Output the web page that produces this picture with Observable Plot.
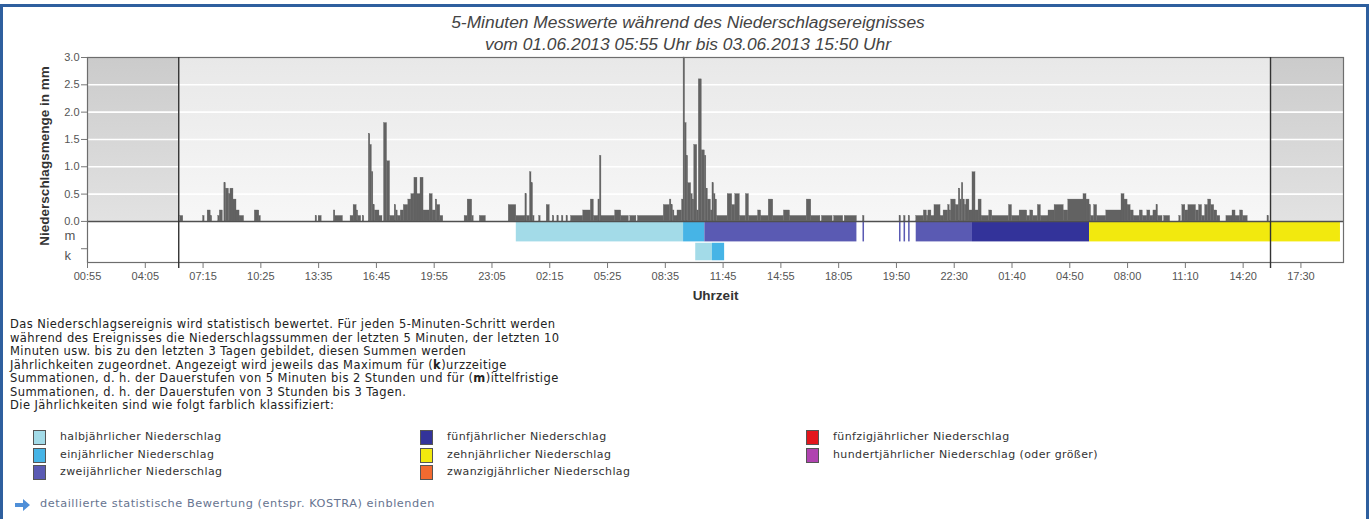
<!DOCTYPE html>
<html><head><meta charset="utf-8">
<script src="https://cdn.jsdelivr.net/npm/d3@7"></script>
<script src="https://cdn.jsdelivr.net/npm/@observablehq/plot@0.6"></script>
<style>
html,body{margin:0;padding:0;background:#fff}
body{width:1369px;height:519px;overflow:hidden;position:relative;font-family:"Liberation Sans",Arial,sans-serif}
#frame{position:absolute;left:0;top:4px;width:1369px;height:620px;box-sizing:border-box;border:3px solid #2e5f9e;border-bottom:none}
#title{position:absolute;left:0;width:1376px;top:12px;text-align:center;font-style:italic;font-size:17.4px;color:#444;line-height:21.5px}
#chart{position:absolute;left:0;top:0}
#desc{position:absolute;left:10px;top:318px;font-family:"DejaVu Sans",sans-serif;font-size:11.5px;letter-spacing:0.42px;line-height:13.5px;color:#222;white-space:nowrap}
.li{position:absolute;font-family:"DejaVu Sans",sans-serif;font-size:11px;letter-spacing:0.4px;color:#333;white-space:nowrap;line-height:14px}
.sw{position:absolute;width:11px;height:13px;border:1px solid #555}
#link{position:absolute;left:40px;top:497px;font-family:"DejaVu Sans",sans-serif;font-size:11.3px;letter-spacing:0.55px;color:#66738f;white-space:nowrap}
#arrow{position:absolute;left:15px;top:499px}
</style></head>
<body>
<div id="frame"></div>
<div id="chart"></div>
<div id="title">5-Minuten Messwerte während des Niederschlagsereignisses<br>vom 01.06.2013 05:55 Uhr bis 03.06.2013 15:50 Uhr</div>
<div id="desc">Das Niederschlagsereignis wird statistisch bewertet. Für jeden 5-Minuten-Schritt werden<br>während des Ereignisses die Niederschlagssummen der letzten 5 Minuten, der letzten 10<br>Minuten usw. bis zu den letzten 3 Tagen gebildet, diesen Summen werden<br>Jährlichkeiten zugeordnet. Angezeigt wird jeweils das Maximum für (<b>k</b>)urzzeitige<br>Summationen, d. h. der Dauerstufen von 5 Minuten bis 2 Stunden und für (<b>m</b>)ittelfristige<br>Summationen, d. h. der Dauerstufen von 3 Stunden bis 3 Tagen.<br>Die Jährlichkeiten sind wie folgt farblich klassifiziert:</div>
<div id="legend"></div>
<svg id="arrow" width="16" height="12" viewBox="0 0 16 12"><path d="M0 4 H8 V0 L15 6 L8 12 V8 H0 Z" fill="#4f8fd8"/></svg>
<div id="link">detaillierte statistische Bewertung (entspr. KOSTRA) einblenden</div>
<script>
// ---------- data ----------
const xTickIdx = [0,38,76,114,152,190,228,266,304,342,380,418,456,494,532,570,608,646,684,722,760,798];
const xTickLabels = ["00:55","04:05","07:15","10:25","13:35","16:45","19:55","23:05","02:15","05:25","08:35","11:45","14:55","18:05","19:50","22:30","01:40","04:50","08:00","11:10","14:20","17:30"];
const yTicks = [0,0.5,1,1.5,2,2.5,3];
const eventStartIdx = 60;   // 01.06.2013 05:55
const eventEndIdx = 778;    // 03.06.2013 15:50
const xMaxIdx = 826;
const lowerPanelMin = -0.752;
// precipitation runs: [first 5-min step, end step, mm]
const precipRuns = [
 [61,63,0.1],[76,77,0.1],[79,81,0.2],[81,82,0.1],[86,87,0.1],[87,89,0.2],[90,91,0.7],[91,93,0.6],[93,94,0.5],[94,96,0.6],[96,98,0.4],[98,100,0.2],[100,103,0.1],[110,113,0.2],[113,114,0.1],
 [150,151,0.1],[152,154,0.1],
 [162,163,0.2],[163,168,0.1],[173,175,0.1],[175,177,0.3],[177,178,0.2],[178,180,0.1],[181,182,0.1],[185,186,1.6],[186,187,1.4],[187,188,0.9],[188,189,0.3],[189,192,0.2],[192,194,0.1],[195,197,1.8],[197,199,1.1],[199,202,0.1],[202,203,0.3],[203,204,0.2],[204,206,0.1],[206,208,0.2],[208,211,0.3],[211,213,0.4],[213,215,0.5],[215,217,0.8],[217,219,0.5],[219,221,0.8],[221,225,0.2],[225,227,0.5],[227,229,0.2],[229,230,0.4],[230,232,0.3],[232,234,0.1],[248,250,0.1],[250,253,0.4],[253,254,0.1],[258,262,0.1],
 [277,282,0.3],[282,288,0.1],[288,289,0.5],[289,291,0.1],[291,292,0.9],[292,293,0.7],[293,294,0.1],[297,298,0.1],[302,304,0.3],[306,307,0.1],[309,310,0.1],[312,313,0.1],[315,316,0.1],[318,326,0.1],[326,331,0.2],[331,333,0.4],[333,336,0.1],[336,337,0.4],[337,338,1.2],[338,347,0.1],[347,351,0.2],[351,356,0.1],[357,361,0.1],[362,379,0.1],
 [379,383,0.3],[383,384,0.4],[384,385,0.3],[385,386,0.2],[386,388,0.1],[388,391,0.2],[391,392,0.4],[392,393,3.0],[393,394,1.8],[394,395,1.2],[395,397,0.7],[397,398,0.5],[398,399,0.4],[399,401,1.4],[401,402,0.2],[402,404,2.6],[404,406,1.3],[406,407,1.2],[407,408,0.6],[408,410,0.4],[410,411,0.2],[411,412,0.7],[412,413,0.5],[413,414,0.4],[414,421,0.1],[421,424,0.5],[424,426,0.3],[426,429,0.5],[429,433,0.1],[433,435,0.5],[435,441,0.1],[441,443,0.2],[443,448,0.1],[448,451,0.4],[451,458,0.1],[458,462,0.2],[462,473,0.1],[473,476,0.4],
 [476,482,0.1],[483,490,0.1],[491,497,0.1],[498,506,0.1],[510,511,0.1],
 [534,535,0.1],[537,538,0.1],[540,541,0.1],[545,550,0.1],[550,552,0.2],[552,553,0.1],[553,555,0.2],[555,557,0.1],[557,561,0.3],[561,563,0.1],[563,566,0.2],[566,567,0.3],[567,568,0.2],[568,571,0.4],[571,573,0.3],[573,574,0.6],[574,575,0.4],[575,576,0.7],[576,577,0.4],[577,578,0.3],[578,580,0.4],[580,582,0.2],[582,584,0.9],[584,586,0.2],[586,588,0.4],[588,593,0.1],[593,595,0.2],[595,606,0.1],[606,608,0.3],[608,613,0.1],[613,618,0.2],[618,620,0.1],[620,622,0.2],[622,625,0.1],[625,627,0.3],[627,632,0.1],[632,636,0.2],[636,642,0.3],[642,645,0.2],[645,655,0.4],[655,657,0.5],[657,659,0.4],[659,660,0.3],[660,662,0.1],[662,664,0.3],[664,670,0.1],[670,680,0.2],[680,682,0.5],[682,684,0.4],[684,686,0.3],
 [686,688,0.2],[688,692,0.1],[692,694,0.2],[694,697,0.1],[697,699,0.2],[699,701,0.1],[701,703,0.2],[703,704,0.3],[704,707,0.1],[708,712,0.1],[718,719,0.1],[720,722,0.3],[722,724,0.2],[724,729,0.3],[729,731,0.2],[731,733,0.3],[733,735,0.1],[735,737,0.3],[737,739,0.4],[739,741,0.3],[741,743,0.2],[743,745,0.1],[749,753,0.1],[753,755,0.2],[755,758,0.1],[758,760,0.2],[760,763,0.1],[776,777,0.1]
];
// return-period classes
const classKeys = ["halb","ein","zwei","fuenf","zehn","zwanzig","fuenfzig","hundert"];
const classLabels = ["halbjährlicher Niederschlag","einjährlicher Niederschlag","zweijährlicher Niederschlag","fünfjährlicher Niederschlag","zehnjährlicher Niederschlag","zwanzigjährlicher Niederschlag","fünfzigjährlicher Niederschlag","hundertjährlicher Niederschlag (oder größer)"];
const classColors = ["#a3dbe8","#46b4e6","#5a5ab3","#33339a","#f2e90e","#f26a30","#e3161c","#b043b0"];
// (m)ittelfristig and (k)urzzeitig classification bands: [start step, end step, class]
const mBands = [[282,392,"halb"],[392,406,"ein"],[406,506,"zwei"],[510,511,"zwei"],[534,535,"zwei"],[537,538,"zwei"],[540,541,"zwei"],[545,582,"zwei"],[582,659,"fuenf"],[659,824,"zehn"]];
const kBands = [[400,411,"halb"],[411,419,"ein"]];
const rowNames = ["m","k"];

// ---------- chart ----------
const yTop = yTicks[yTicks.length - 1];
const rowExtent = {m: [-0.375, -0.012], k: [-0.72, -0.40]};
const bandRows = [...mBands.map(d => ({s: d[0], e: d[1], c: d[2], row: "m"})), ...kBands.map(d => ({s: d[0], e: d[1], c: d[2], row: "k"}))];
const outside = [[0, eventStartIdx], [eventEndIdx, xMaxIdx]];
const yAxisTicks = [-0.5, ...yTicks];

const chart = Plot.plot({
  width: 1369, height: 310,
  marginLeft: 87, marginRight: 26, marginTop: 57, marginBottom: 48,
  style: {fontFamily: "'Liberation Sans', Arial, sans-serif", fontSize: "11px", color: "#555", background: "transparent"},
  x: {domain: [0, xMaxIdx], axis: null},
  y: {domain: [lowerPanelMin, yTop], axis: null},
  color: {domain: classKeys, range: classColors},
  marks: [
    Plot.rect([[eventStartIdx, eventEndIdx]], {x1: d => d[0], x2: d => d[1], y1: 0, y2: yTop, fill: "url(#gIn)"}),
    Plot.rect(outside, {x1: d => d[0], x2: d => d[1], y1: 0, y2: yTop, fill: "url(#gOut)"}),
    Plot.ruleY(yTicks.filter(d => d > 0 && d < yTop), {stroke: "#fff", strokeWidth: 1.6}),
    Plot.rectY(precipRuns, {x1: d => d[0], x2: d => d[1], y: d => d[2], fill: "#626262", stroke: "#626262", strokeWidth: 0.3}),
    Plot.rect(bandRows, {x1: "s", x2: "e", y1: d => rowExtent[d.row][0], y2: d => rowExtent[d.row][1], fill: "c"}),
    Plot.ruleY([0], {stroke: "#505050", strokeWidth: 1.5}),
    Plot.frame({stroke: "#6d6d6d", strokeWidth: 1.2}),
    Plot.ruleX([eventStartIdx, eventEndIdx], {stroke: "#333", strokeWidth: 1.4, insetBottom: -6}),
    Plot.axisY({ticks: yAxisTicks, tickFormat: d => d < 0 ? "" : d3.format(".1f")(d), tickSize: 6, tickPadding: 2, label: null, stroke: "#777"}),
    Plot.text(rowNames, {frameAnchor: "left", y: d => (rowExtent[d][0] + rowExtent[d][1]) / 2, text: d => d, dx: -23, dy: 4, textAnchor: "start", fontSize: 13, fill: "#555"}),
    Plot.axisX({ticks: xTickIdx, tickFormat: d => xTickLabels[xTickIdx.indexOf(d)], tickSize: 6, tickPadding: 4, label: null, stroke: "#777"}),
    Plot.text(["Uhrzeit"], {frameAnchor: "bottom", dy: 37, fontWeight: "bold", fontSize: 13.5, fill: "#333"}),
    Plot.text(["Niederschlagsmenge in mm"], {frameAnchor: "left", textAnchor: "middle", rotate: -90, dx: -43, dy: -4, fontWeight: "bold", fontSize: 13.5, fill: "#333"})
  ]
});
const defs = d3.select(chart).insert("defs", ":first-child");
function grad(id, c0, c1) {
  const g = defs.append("linearGradient").attr("id", id).attr("x1", 0).attr("y1", 0).attr("x2", 0).attr("y2", 1);
  g.append("stop").attr("offset", "0%").attr("stop-color", c0);
  g.append("stop").attr("offset", "100%").attr("stop-color", c1);
}
grad("gIn", "#e8e8e8", "#f7f7f7");
grad("gOut", "#cbcbcb", "#e2e2e2");
document.getElementById("chart").appendChild(chart);

// ---------- legend ----------
const legend = document.getElementById("legend");
const colX = [33, 420, 806], rowY = [430, 448, 465];
classKeys.forEach((k, i) => {
  const col = Math.floor(i / 3), row = i % 3;
  const sw = document.createElement("div");
  sw.className = "sw";
  sw.style.left = colX[col] + "px"; sw.style.top = rowY[row] + "px";
  sw.style.background = classColors[i];
  legend.appendChild(sw);
  const t = document.createElement("div");
  t.className = "li";
  t.style.left = (colX[col] + 27) + "px"; t.style.top = (rowY[row] - 0.5) + "px";
  t.textContent = classLabels[i];
  legend.appendChild(t);
});
</script>
</body></html>
